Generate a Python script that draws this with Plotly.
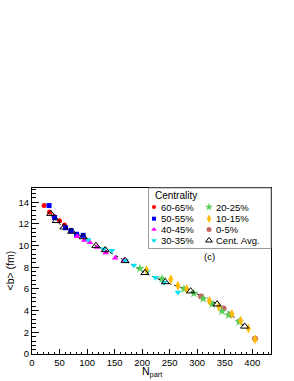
import plotly.graph_objects as go

# ---- data ----
n_60 = [22, 32, 40, 50, 59]
b_60 = [13.7, 13.1, 12.7, 12.3, 11.9]

n_50 = [31, 41, 61, 71, 81, 93]
b_50 = [13.7, 12.6, 11.65, 11.4, 11.05, 10.95]

n_40 = [82, 95, 105, 118, 134, 151, 167]
b_40 = [10.85, 10.5, 10.3, 9.85, 9.35, 8.85, 8.65]

n_30 = [102, 130, 145, 170, 185, 209, 224, 240, 265]
b_30 = [10.55, 9.7, 9.55, 8.6, 8.2, 7.6, 7.05, 6.6, 5.7]

n_20 = [196, 236, 276, 294, 311, 327, 345, 357, 376]
b_20 = [7.9, 6.95, 6.0, 5.6, 5.1, 4.6, 3.95, 3.6, 2.97]

n_10 = [208, 252, 265, 281, 322, 339, 363, 379, 393, 405]
b_10 = [7.75, 6.9, 6.3, 6.0, 4.9, 4.4, 3.7, 3.07, 2.36, 1.35]

n_0 = [307, 348, 360, 405]
b_0 = [5.3, 4.2, 3.65, 1.4]

n_avg = [34, 44, 58, 72, 93, 116, 133, 169, 205, 242, 288, 336, 386]
b_avg = [12.95, 12.3, 11.7, 11.3, 10.8, 10.0, 9.6, 8.6, 7.5, 6.65, 5.8, 4.6, 2.55]

labels = ["60-65%", "50-55%", "40-45%", "30-35%", "20-25%", "10-15%", "0-5%", "Cent. Avg."]
colors = ["#ff0000", "#0000ff", "#ff00ff", "#00e0f0", "#55cc55", "#ffbb00", "#c86464", "#000000"]
symbols = ["circle", "square", "triangle-up", "triangle-down", "star", "diamond-tall", "circle", "triangle-up-open"]
sizes = [5, 5, 6, 6, 7, 7, 6, 7]

series = [(n_60, b_60), (n_50, b_50), (n_40, b_40), (n_30, b_30),
          (n_20, b_20), (n_10, b_10), (n_0, b_0)]
draw_order = [6, 0, 1, 2, 3, 4, 5]   # 0-5% drawn first so 10-15% sits on top

W, H = 294, 381
# plot area in page pixels: x 32..271, y 188..354
PX0, PX1, PY0, PY1 = 32, 271, 188, 354
L, R, T, B = PX0, W - PX1, PY0, H - PY1
PW, PH = PX1 - PX0, PY1 - PY0

def px(x):
    return (x - PX0) / PW

def py(y):
    return (PY1 - y) / PH

fig = go.Figure()

# Cent. Avg. dotted curve (behind markers)
fig.add_trace(go.Scatter(x=n_avg, y=b_avg, mode="lines",
                         line=dict(color="black", width=1, dash="dot", shape="spline"),
                         showlegend=False, hoverinfo="skip"))

for k in draw_order:
    nx, by = series[k]
    fig.add_trace(go.Scatter(x=nx, y=by, mode="markers", name=labels[k],
                             marker=dict(color=colors[k], symbol=symbols[k], size=sizes[k], line=dict(width=0)),
                             showlegend=False))

fig.add_trace(go.Scatter(x=n_avg, y=b_avg, mode="markers", name=labels[7],
                         marker=dict(color="black", symbol="triangle-up-open", size=7, line=dict(width=1)),
                         showlegend=False))

# ---- hand-made legend in an overlay axis ----
rows_y = [207, 218.7, 229.5, 240.5]
col_mx = [154, 209]
col_tx = [158.5, 214]
leg_x, leg_y = [], []
annotations = []
for i, lab in enumerate(labels):
    col, row = divmod(i, 4)
    leg_x.append(px(col_mx[col]))
    leg_y.append(py(rows_y[row]))
    annotations.append(dict(x=px(col_tx[col]), y=py(rows_y[row]), xref="paper", yref="paper",
                            text=lab, showarrow=False, xanchor="left", yanchor="middle",
                            font=dict(size=9.5, color="black", family="Liberation Sans, Arial")))
for i in range(8):
    fig.add_trace(go.Scatter(x=[leg_x[i]], y=[leg_y[i]], xaxis="x2", yaxis="y2", mode="markers",
                             marker=dict(color=colors[i], symbol=symbols[i], size=sizes[i] - 1,
                                         line=dict(width=1 if i == 7 else 0, color=colors[i])),
                             showlegend=False, hoverinfo="skip"))

annotations.append(dict(x=px(152.5), y=py(195), xref="paper", yref="paper", text="Centrality",
                        showarrow=False, xanchor="left", yanchor="middle",
                        font=dict(size=10, color="black", family="Liberation Sans, Arial")))
annotations.append(dict(x=px(209), y=py(256.5), xref="paper", yref="paper", text="(c)",
                        showarrow=False, xanchor="center", yanchor="middle",
                        font=dict(size=9.5, color="black", family="Liberation Sans, Arial")))
# axis titles
annotations.append(dict(x=px(151.5), y=py(372), xref="paper", yref="paper", text="N<sub>part</sub>",
                        showarrow=False, xanchor="center", yanchor="middle",
                        font=dict(size=10.5, color="black", family="Liberation Sans, Arial")))
annotations.append(dict(x=px(9.5), y=py(271), xref="paper", yref="paper", text="&lt;b&gt; (fm)",
                        showarrow=False, xanchor="center", yanchor="middle", textangle=-90,
                        font=dict(size=10.5, color="black", family="Liberation Sans, Arial")))

shapes = [dict(type="rect", xref="paper", yref="paper", x0=px(148.5), x1=px(271), y0=py(248.5), y1=py(188),
               line=dict(color="#9a9a9a", width=1), fillcolor="rgba(0,0,0,0)")]

axis_font = dict(size=9.5, color="black", family="Liberation Sans, Arial")
fig.update_layout(
    width=W, height=H, margin=dict(l=L, r=R, t=T, b=B, pad=0),
    paper_bgcolor="white", plot_bgcolor="white",
    showlegend=False,
    font=dict(family="Liberation Sans, Arial", color="black"),
    xaxis=dict(range=[0, 434], dtick=50, tick0=0, ticks="inside", ticklen=5, tickwidth=1,
               tickcolor="black", showline=True, linecolor="black", linewidth=1, mirror=True,
               showgrid=False, zeroline=False, tickfont=axis_font,
               minor=dict(ticks="inside", dtick=10, ticklen=2.5, tickcolor="black", showgrid=False)),
    yaxis=dict(range=[0, 15.32], dtick=2, tick0=0, ticks="inside", ticklen=7, tickwidth=1,
               tickcolor="black", showline=True, linecolor="black", linewidth=1, mirror=True,
               showgrid=False, zeroline=False, tickfont=axis_font,
               minor=dict(ticks="inside", dtick=0.4, ticklen=3.5, tickcolor="black", showgrid=False)),
    xaxis2=dict(overlaying="x", range=[0, 1], visible=False, fixedrange=True),
    yaxis2=dict(overlaying="y", range=[0, 1], visible=False, fixedrange=True),
    annotations=annotations, shapes=shapes,
)

fig.write_html("out.html", config={"displayModeBar": False},
               post_script="document.body.style.margin='0';document.body.style.overflow='hidden';")
